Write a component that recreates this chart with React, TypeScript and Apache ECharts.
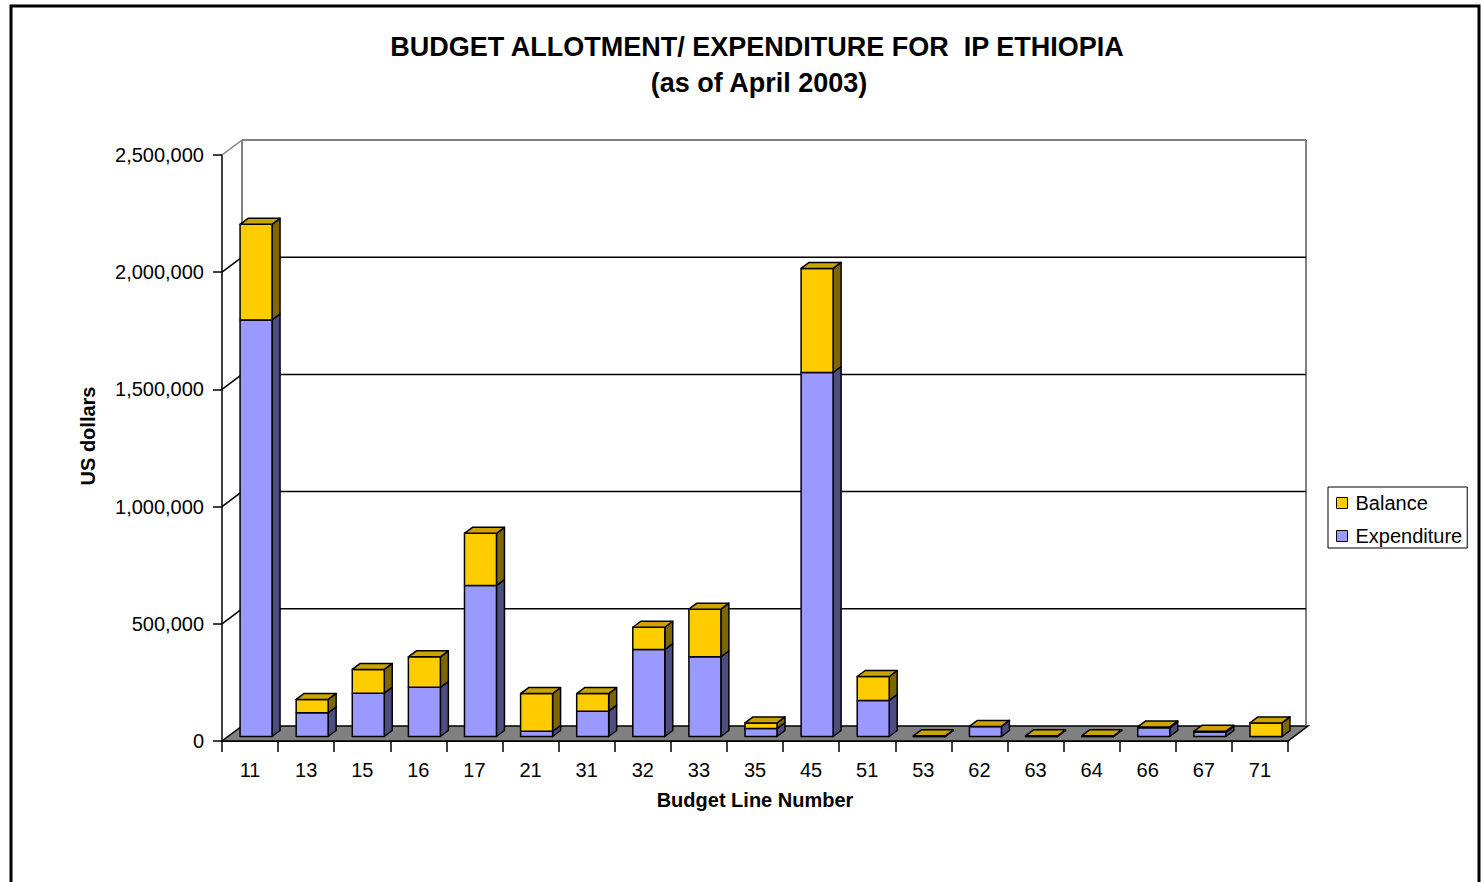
import React, { useEffect, useRef } from "react";
import * as echarts from "echarts";

const categories = ["11", "13", "15", "16", "17", "21", "31", "32", "33", "35", "45", "51", "53", "62", "63", "64", "66", "67", "71"];
const expenditure = [1777000, 101000, 185000, 210000, 644000, 22000, 108000, 371000, 340000, 34000, 1553000, 154000, 0, 43000, 0, 0, 37000, 19000, 0];
const balance = [408000, 57000, 101000, 130000, 223000, 161000, 75000, 95000, 203000, 24000, 444000, 102000, 3000, 0, 3000, 3000, 4000, 3000, 58000];
const yTicks = [0, 500000, 1000000, 1500000, 2000000, 2500000];
const titleLines = ["BUDGET ALLOTMENT/ EXPENDITURE FOR  IP ETHIOPIA", "(as of April 2003)"];

const FONT = "'Liberation Sans', Arial, sans-serif";
const WALL_DX = 20;
const WALL_DY = -15;
const BAR_OFF_X = 6;
const BAR_OFF_Y = -4.5;
const BAR_DX = 8;
const BAR_DY = -6;
const BAR_RATIO = 0.57;

const COLORS = {
  bal: { front: "#FFCC00", side: "#806600", top: "#CCA300" },
  exp: { front: "#9999FF", side: "#4D4D80", top: "#7A7ACC" },
};

function segment(api: any, i: number, v0: number, v1: number, col: any, withTop: boolean) {
  const c = api.coord([i, 0]);
  const band = api.size([1, 0])[0];
  const w = band * BAR_RATIO;
  const x0 = c[0] + BAR_OFF_X - w / 2;
  const x1 = x0 + w;
  const yBot = api.coord([i, v0])[1] + BAR_OFF_Y;
  const yTop = api.coord([i, v1])[1] + BAR_OFF_Y;
  const stroke = { stroke: "#000", lineWidth: 1.5, lineJoin: "round" };
  const children: any[] = [
    {
      type: "polygon",
      shape: { points: [[x1, yTop], [x1 + BAR_DX, yTop + BAR_DY], [x1 + BAR_DX, yBot + BAR_DY], [x1, yBot]] },
      style: { fill: col.side, ...stroke },
    },
    {
      type: "rect",
      shape: { x: x0, y: yTop, width: w, height: Math.max(0, yBot - yTop) },
      style: { fill: col.front, ...stroke },
    },
  ];
  if (withTop) {
    children.push({
      type: "polygon",
      shape: { points: [[x0, yTop], [x0 + BAR_DX, yTop + BAR_DY], [x1 + BAR_DX, yTop + BAR_DY], [x1, yTop]] },
      style: { fill: col.top, ...stroke },
    });
  }
  return { type: "group", children };
}

export default function App() {
  const ref = useRef<HTMLDivElement>(null);
  useEffect(() => {
    if (!ref.current) return;
    const chart = echarts.init(ref.current, null, { renderer: "svg" });
    const yMax = yTicks[yTicks.length - 1];
    const barData = categories.map((_, i) => [i, expenditure[i], balance[i]]);

    const option: any = {
      animation: false,
      textStyle: { fontFamily: FONT, color: "#000" },
      grid: { left: 222, top: 155, width: 1066, height: 586 },
      legend: {
        data: ["Balance", "Expenditure"],
        orient: "vertical",
        left: 1328,
        top: 487,
        icon: "rect",
        itemWidth: 11,
        itemHeight: 11,
        itemGap: 13,
        padding: [6, 5, 2, 8],
        borderColor: "#000",
        borderWidth: 1,
        selectedMode: false,
        itemStyle: { borderColor: "#000", borderWidth: 1 },
        textStyle: { fontSize: 20, fontFamily: FONT, color: "#000", padding: [0, 0, 0, 3] },
      },
      xAxis: {
        type: "category",
        data: categories,
        name: "Budget Line Number",
        nameLocation: "middle",
        nameGap: 49,
        nameTextStyle: { fontSize: 20, fontWeight: "bold", fontFamily: FONT, color: "#000" },
        axisLine: { show: true, lineStyle: { color: "#000", width: 2 } },
        axisTick: { show: true, length: 11, lineStyle: { color: "#000", width: 1.5 } },
        axisLabel: { fontSize: 20, margin: 19, color: "#000", fontFamily: FONT },
        splitLine: { show: false },
      },
      yAxis: {
        type: "value",
        min: 0,
        max: yMax,
        interval: 500000,
        axisLine: { show: true, lineStyle: { color: "#000", width: 1.5 } },
        axisTick: { show: true, length: 9, lineStyle: { color: "#000", width: 1.5 } },
        axisLabel: {
          fontSize: 20,
          margin: 18,
          color: "#000",
          fontFamily: FONT,
          formatter: (v: number) => v.toLocaleString("en-US"),
        },
        splitLine: { show: false },
      },
      graphic: [
        {
          type: "rect",
          shape: { x: 11, y: 6, width: 1468, height: 920 },
          style: { fill: "none", stroke: "#000", lineWidth: 3 },
          silent: true,
        },
        {
          type: "text",
          x: 757,
          y: 47,
          style: { text: titleLines[0], font: `bold 27px ${FONT}`, fill: "#000", textAlign: "center", textVerticalAlign: "middle" },
        },
        {
          type: "text",
          x: 759,
          y: 83,
          style: { text: titleLines[1], font: `bold 27px ${FONT}`, fill: "#000", textAlign: "center", textVerticalAlign: "middle" },
        },
        {
          type: "text",
          x: 88,
          y: 436,
          rotation: Math.PI / 2,
          style: { text: "US dollars", font: `bold 20px ${FONT}`, fill: "#000", textAlign: "center", textVerticalAlign: "middle" },
        },
      ],
      series: [
        {
          name: "walls",
          type: "custom",
          z: 1,
          clip: false,
          silent: true,
          data: yTicks.map((v) => [0, v]),
          encode: { x: 0, y: 1 },
          renderItem: (params: any, api: any) => {
            const v = api.value(1);
            const cs = params.coordSys;
            const left = cs.x;
            const right = cs.x + cs.width;
            const y = api.coord([0, v])[1];
            const yTop = api.coord([0, yMax])[1];
            const gray = "#808080";
            if (v === 0) {
              return {
                type: "group",
                children: [
                  {
                    type: "polygon",
                    shape: { points: [[left, y], [right, y], [right + WALL_DX, y + WALL_DY], [left + WALL_DX, y + WALL_DY]] },
                    style: { fill: gray, stroke: "#000", lineWidth: 1.5 },
                  },
                  {
                    type: "line",
                    shape: { x1: left + WALL_DX, y1: y + WALL_DY, x2: left + WALL_DX, y2: yTop + WALL_DY },
                    style: { stroke: gray, lineWidth: 2 },
                  },
                  {
                    type: "line",
                    shape: { x1: right + WALL_DX - 2, y1: y + WALL_DY, x2: right + WALL_DX - 2, y2: yTop + WALL_DY },
                    style: { stroke: gray, lineWidth: 2 },
                  },
                ],
              };
            }
            const isTop = v === yMax;
            const col = isTop ? gray : "#000";
            return {
              type: "group",
              children: [
                {
                  type: "line",
                  shape: { x1: left + WALL_DX, y1: y + WALL_DY, x2: right + WALL_DX - 2, y2: y + WALL_DY },
                  style: { stroke: col, lineWidth: isTop ? 2 : 1.5 },
                },
                {
                  type: "line",
                  shape: { x1: left, y1: y, x2: left + WALL_DX, y2: y + WALL_DY },
                  style: { stroke: col, lineWidth: 1.5 },
                },
              ],
            };
          },
        },
        {
          name: "Expenditure",
          type: "custom",
          z: 2,
          clip: false,
          itemStyle: { color: COLORS.exp.front, borderColor: "#000", borderWidth: 1 },
          data: barData,
          encode: { x: 0, y: 1 },
          renderItem: (params: any, api: any) => {
            const i = api.value(0);
            const e = api.value(1);
            return segment(api, i, 0, e, COLORS.exp, false);
          },
        },
        {
          name: "Balance",
          type: "custom",
          z: 3,
          clip: false,
          itemStyle: { color: COLORS.bal.front, borderColor: "#000", borderWidth: 1 },
          data: barData,
          encode: { x: 0, y: 2 },
          renderItem: (params: any, api: any) => {
            const i = api.value(0);
            const e = api.value(1);
            const b = api.value(2);
            return segment(api, i, e, e + b, COLORS.bal, true);
          },
        },
      ],
    };
    chart.setOption(option);
    return () => chart.dispose();
  }, []);
  return <div ref={ref} style={{ position: "fixed", left: 0, top: 0, width: 1484, height: 882, background: "#fff" }} />;
}
